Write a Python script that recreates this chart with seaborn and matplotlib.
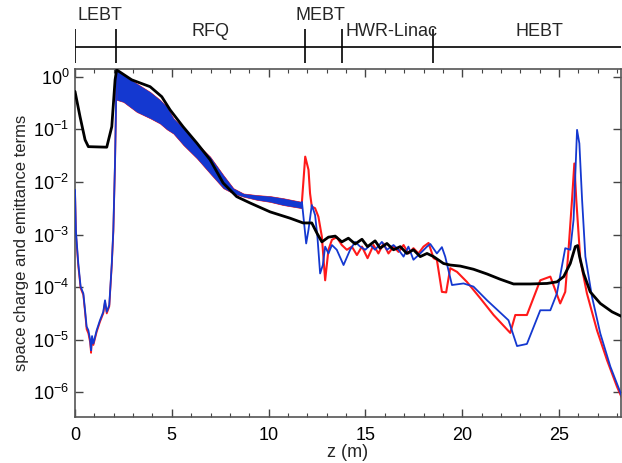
import numpy as np
import pandas as pd
import matplotlib
matplotlib.use("Agg")
import matplotlib.pyplot as plt
import seaborn as sns
from matplotlib.ticker import MultipleLocator, FixedLocator, NullLocator

# --- data (log10 of the terms) ---
# black: full curve
black_z = [0, 0.26, 0.52, 0.69, 1.64, 1.9, 2.07, 2.15, 2.93, 3.88, 4.48, 4.91, 5.58, 6.29,
           6.98, 7.65, 8.35, 9.04, 10.08, 11.11, 11.78, 12.23, 12.49, 12.75, 13.09, 13.44,
           13.78, 14.12, 14.47, 14.82, 15.11, 15.5, 15.76, 16.11, 16.45, 16.8, 17.14, 17.48,
           17.83, 18.18, 18.52, 19.03, 19.38, 19.9, 20.58, 21.28, 21.96, 22.65, 23.51, 24.38,
           24.89, 25.24, 25.58, 25.84, 25.96, 26.06, 26.27, 26.61, 27.13, 27.74, 28.25]
black_log = [-0.28, -0.76, -1.2, -1.33, -1.34, -0.95, -0.06, 0.13, -0.06, -0.19, -0.38, -0.63,
             -0.95, -1.26, -1.58, -2.02, -2.28, -2.40, -2.57, -2.69, -2.78, -2.78, -2.97, -3.14,
             -3.05, -3.03, -3.14, -3.07, -3.18, -3.09, -3.23, -3.12, -3.26, -3.17, -3.29, -3.23,
             -3.36, -3.29, -3.42, -3.36, -3.42, -3.55, -3.58, -3.60, -3.66, -3.75, -3.85, -3.94,
             -3.94, -3.93, -3.90, -3.80, -3.55, -3.23, -3.21, -3.42, -3.74, -4.09, -4.31, -4.47,
             -4.56]

# LEBT part of red / blue
lebt_z = [0, 0.05, 0.17, 0.29, 0.43, 0.52, 0.6, 0.69, 0.78, 0.83, 0.88, 0.95, 1.12, 1.29,
          1.46, 1.55, 1.64, 1.77, 1.9, 1.98, 2.07, 2.15]
lebt_blue_log = [-2.15, -2.95, -3.55, -3.99, -4.12, -4.44, -4.75, -4.82, -5.0, -5.2, -4.93,
                 -5.07, -4.82, -4.63, -4.47, -4.25, -4.47, -4.34, -3.55, -2.91, -1.58, 0.13]
lebt_red_log = [-2.18, -3.0, -3.6, -4.02, -4.15, -4.48, -4.8, -4.88, -5.05, -5.25, -4.97,
                -5.1, -4.85, -4.66, -4.5, -4.28, -4.5, -4.37, -3.58, -2.95, -1.6, 0.13]

# RFQ: envelope of the fast oscillation
rfq_z = [2.15, 2.5, 3.19, 3.88, 4.39, 4.74, 5.08, 5.6, 6.29, 6.98, 7.66, 8.18, 8.7, 9.39,
         10.08, 10.76, 11.72]
rfq_hi_log = [0.14, 0.03, -0.13, -0.29, -0.44, -0.57, -0.79, -0.98, -1.27, -1.52, -1.87,
              -2.12, -2.22, -2.25, -2.27, -2.31, -2.38]
rfq_lo_log = [-0.44, -0.48, -0.67, -0.79, -0.89, -1.0, -1.08, -1.30, -1.55, -1.84, -2.12,
              -2.22, -2.28, -2.34, -2.38, -2.44, -2.50]

# after RFQ
red_z = [11.72, 11.89, 12.06, 12.14, 12.23, 12.4, 12.57, 12.75, 12.92, 13.09, 13.27, 13.52,
         13.78, 14.04, 14.3, 14.56, 14.82, 15.11, 15.42, 15.67, 15.93, 16.19, 16.45, 16.71,
         16.97, 17.22, 17.48, 17.74, 18.0, 18.26, 18.52, 18.69, 18.95, 19.17, 19.38, 19.73,
         20.24, 20.93, 21.62, 22.48, 22.74, 23.34, 24.03, 24.55, 25.06, 25.32, 25.49, 25.67,
         25.79, 25.89, 26.1, 26.44, 26.96, 27.48, 27.99, 28.25]
red_log = [-2.38, -1.52, -1.77, -2.22, -2.47, -2.50, -2.66, -3.04, -3.87, -3.29, -3.10, -3.05,
           -3.20, -3.29, -3.23, -3.39, -3.23, -3.45, -3.20, -3.36, -3.17, -3.36, -3.23, -3.33,
           -3.20, -3.36, -3.26, -3.36, -3.23, -3.16, -3.45, -3.48, -4.09, -4.10, -3.64, -3.71,
           -3.90, -4.21, -4.53, -4.87, -4.53, -4.53, -3.87, -3.80, -4.31, -4.09, -3.29, -2.34,
           -1.65, -2.34, -3.49, -4.12, -4.82, -5.39, -5.89, -6.11]
blue_z = [11.72, 11.94, 12.06, 12.23, 12.4, 12.52, 12.66, 12.8, 12.92, 13.09, 13.27, 13.52,
          13.87, 14.21, 14.47, 14.73, 14.99, 15.25, 15.5, 15.85, 16.11, 16.45, 16.71, 16.97,
          17.22, 17.48, 17.83, 18.18, 18.35, 18.69, 18.95, 19.12, 19.47, 20.07, 20.58, 21.28,
          22.39, 22.83, 23.34, 24.03, 24.55, 24.89, 25.32, 25.58, 25.75, 25.93, 26.05, 26.19,
          26.36, 26.7, 27.13, 27.65, 28.25]
blue_log = [-2.38, -3.17, -2.91, -2.44, -2.63, -3.04, -3.74, -3.58, -3.23, -3.36, -3.20, -3.29,
            -3.58, -3.29, -3.14, -3.23, -3.29, -3.20, -3.29, -3.14, -3.29, -3.20, -3.29, -3.42,
            -3.23, -3.48, -3.36, -3.23, -3.18, -3.36, -3.24, -3.42, -3.96, -3.93, -3.99, -4.25,
            -4.63, -5.12, -5.08, -4.44, -4.44, -4.12, -3.26, -3.29, -2.72, -1.01, -1.27, -2.34,
            -3.42, -4.18, -4.88, -5.51, -6.08]

# beamline sections
section_edges = [0, 2.1, 11.9, 13.8, 18.5]
section_names = ["LEBT", "RFQ", "MEBT", "HWR-Linac", "HEBT"]
section_label_z = [1.3, 7.0, 11.4, 13.95, 24.0]

y_decades = [1e-6, 1e-5, 1e-4, 1e-3, 1e-2, 1e-1, 1e0]

RED = "#ff1a1a"
BLUE = "#1438d0"
FS = 13

sns.set_style("ticks")
plt.rcParams["font.family"] = ["Liberation Sans", "DejaVu Sans"]
plt.rcParams["mathtext.fontset"] = "custom"
plt.rcParams["mathtext.rm"] = "Liberation Sans"

fig = plt.figure(figsize=(6.22, 4.63), dpi=100)
ax = fig.add_axes([75 / 622, 46 / 463, 546 / 622, 348 / 463])

lebt_df = pd.DataFrame({"z": lebt_z, "red": np.power(10.0, lebt_red_log),
                        "blue": np.power(10.0, lebt_blue_log)})
red_df = pd.DataFrame({"z": red_z, "v": np.power(10.0, red_log)})
blue_df = pd.DataFrame({"z": blue_z, "v": np.power(10.0, blue_log)})
black_df = pd.DataFrame({"z": black_z, "v": np.power(10.0, black_log)})

rfq_hi = np.power(10.0, rfq_hi_log)
rfq_lo = np.power(10.0, rfq_lo_log)
ax.fill_between(rfq_z, rfq_lo, rfq_hi, color=RED, lw=0.5, zorder=2)
ax.fill_between(rfq_z, rfq_lo, rfq_hi, color=BLUE, lw=0, zorder=3)

sns.lineplot(data=lebt_df, x="z", y="red", color=RED, lw=1.3, sort=False, ax=ax, zorder=2)
sns.lineplot(data=lebt_df, x="z", y="blue", color=BLUE, lw=1.3, sort=False, ax=ax, zorder=3)
sns.lineplot(data=red_df, x="z", y="v", color=RED, lw=1.5, sort=False, ax=ax, zorder=2)
sns.lineplot(data=blue_df, x="z", y="v", color=BLUE, lw=1.3, sort=False, ax=ax, zorder=3)
sns.lineplot(data=black_df, x="z", y="v", color="black", lw=2.0, sort=False, ax=ax, zorder=4)

ax.set_yscale("log")
ax.set_xlim(0, 28.2)
ax.set_ylim(3.4e-7, 1.4)
ax.xaxis.set_major_locator(MultipleLocator(5))
ax.xaxis.set_minor_locator(MultipleLocator(1))
ax.yaxis.set_major_locator(FixedLocator(y_decades))
ax.yaxis.set_minor_locator(NullLocator())
ax.tick_params(which="both", direction="in", top=True, right=True, colors="#444444",
               labelcolor="black", labelsize=FS)
ax.tick_params(which="major", length=6, width=1)
ax.tick_params(which="minor", length=3, width=0.8)
ax.tick_params(axis="x", pad=7)
ax.tick_params(axis="y", pad=4)
for s in ax.spines.values():
    s.set_color("#555555")
    s.set_linewidth(1.2)
ax.set_xlabel("z (m)", fontsize=FS, labelpad=0)
ax.set_ylabel("space charge and emittance terms", fontsize=12, labelpad=3)

# section bar above the plot
bar = fig.add_axes([75 / 622, 394 / 463, 546 / 622, 69 / 463], sharex=ax)
bar.set_ylim(0, 69)
bar.axis("off")
bar.axhline(22.3, color="black", lw=1.2)
bar.vlines(section_edges, 6, 40, color="black", lw=1.2)
bar.text(section_label_z[0], 53, section_names[0], ha="center", va="center", fontsize=FS)
bar.text(section_label_z[1], 38, section_names[1], ha="center", va="center", fontsize=FS)
bar.text(section_label_z[2], 53, section_names[2], ha="left", va="center", fontsize=FS)
bar.text(section_label_z[3], 38, section_names[3], ha="left", va="center", fontsize=FS)
bar.text(section_label_z[4], 38, section_names[4], ha="center", va="center", fontsize=FS)

fig.savefig("out.png", dpi=100)
